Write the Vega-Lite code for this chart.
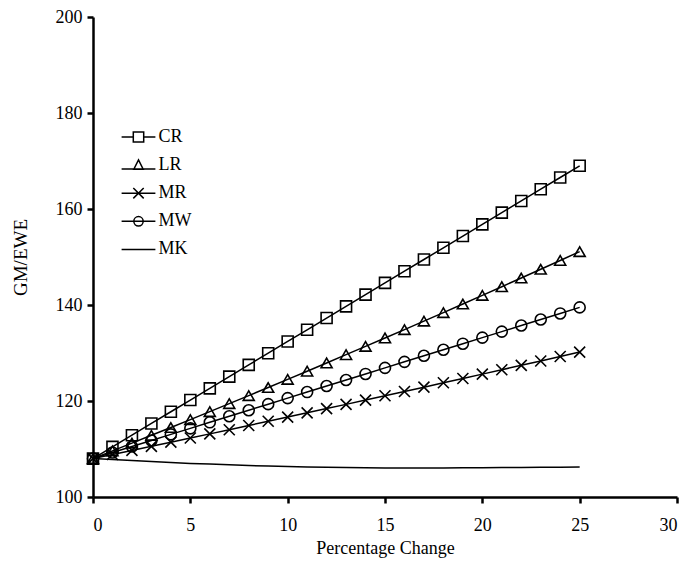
{
  "$schema": "https://vega.github.io/schema/vega-lite/v6.json",
  "autosize": "none",
  "width": 584,
  "height": 480,
  "padding": {"left": 93, "top": 17, "right": 22, "bottom": 77},
  "background": "white",
  "config": {
    "view": {"stroke": null},
    "font": "Liberation Serif",
    "axis": {
      "domainColor": "black", "domainWidth": 2.5,
      "tickColor": "black", "tickWidth": 2.5, "tickSize": 6,
      "grid": false,
      "labelFont": "Liberation Serif", "labelFontSize": 18, "labelColor": "black",
      "titleFont": "Liberation Serif", "titleFontSize": 18, "titleColor": "black", "titleFontWeight": "normal"
    }
  },
  "data": {
    "values": [
      {"x": 0, "CR": 108.0, "LR": 108.0, "MR": 108.0, "MW": 108.0, "MK": 108.0},
      {"x": 1, "CR": 110.44, "LR": 109.61, "MR": 108.85, "MW": 109.26, "MK": 107.8},
      {"x": 2, "CR": 112.88, "LR": 111.22, "MR": 109.71, "MW": 110.52, "MK": 107.6},
      {"x": 3, "CR": 115.32, "LR": 112.85, "MR": 110.56, "MW": 111.78, "MK": 107.4},
      {"x": 4, "CR": 117.76, "LR": 114.48, "MR": 111.42, "MW": 113.04, "MK": 107.2},
      {"x": 5, "CR": 120.2, "LR": 116.13, "MR": 112.29, "MW": 114.3, "MK": 107.0},
      {"x": 6, "CR": 122.64, "LR": 117.78, "MR": 113.15, "MW": 115.56, "MK": 106.85},
      {"x": 7, "CR": 125.08, "LR": 119.45, "MR": 114.02, "MW": 116.82, "MK": 106.7},
      {"x": 8, "CR": 127.52, "LR": 121.12, "MR": 114.9, "MW": 118.08, "MK": 106.55},
      {"x": 9, "CR": 129.96, "LR": 122.81, "MR": 115.77, "MW": 119.34, "MK": 106.45},
      {"x": 10, "CR": 132.4, "LR": 124.5, "MR": 116.65, "MW": 120.6, "MK": 106.35},
      {"x": 11, "CR": 134.84, "LR": 126.21, "MR": 117.53, "MW": 121.86, "MK": 106.25},
      {"x": 12, "CR": 137.28, "LR": 127.92, "MR": 118.42, "MW": 123.12, "MK": 106.2},
      {"x": 13, "CR": 139.72, "LR": 129.65, "MR": 119.3, "MW": 124.38, "MK": 106.15},
      {"x": 14, "CR": 142.16, "LR": 131.38, "MR": 120.19, "MW": 125.64, "MK": 106.1},
      {"x": 15, "CR": 144.6, "LR": 133.13, "MR": 121.09, "MW": 126.9, "MK": 106.05},
      {"x": 16, "CR": 147.04, "LR": 134.88, "MR": 121.98, "MW": 128.16, "MK": 106.05},
      {"x": 17, "CR": 149.48, "LR": 136.65, "MR": 122.88, "MW": 129.42, "MK": 106.05},
      {"x": 18, "CR": 151.92, "LR": 138.42, "MR": 123.79, "MW": 130.68, "MK": 106.05},
      {"x": 19, "CR": 154.36, "LR": 140.21, "MR": 124.69, "MW": 131.94, "MK": 106.1},
      {"x": 20, "CR": 156.8, "LR": 142.0, "MR": 125.6, "MW": 133.2, "MK": 106.1},
      {"x": 21, "CR": 159.24, "LR": 143.81, "MR": 126.51, "MW": 134.46, "MK": 106.15},
      {"x": 22, "CR": 161.68, "LR": 145.62, "MR": 127.43, "MW": 135.72, "MK": 106.15},
      {"x": 23, "CR": 164.12, "LR": 147.45, "MR": 128.34, "MW": 136.98, "MK": 106.2},
      {"x": 24, "CR": 166.56, "LR": 149.28, "MR": 129.26, "MW": 138.24, "MK": 106.2},
      {"x": 25, "CR": 169.0, "LR": 151.13, "MR": 130.19, "MW": 139.5, "MK": 106.25}
    ]
  },
  "transform": [
    {"fold": ["CR", "LR", "MR", "MW", "MK"], "as": ["series", "value"]}
  ],
  "encoding": {
    "x": {
      "field": "x", "type": "quantitative",
      "scale": {"domain": [0, 30], "nice": false},
      "axis": {"values": [0, 5, 10, 15, 20, 25, 30], "title": "Percentage Change", "labelPadding": 13, "titlePadding": 5}
    },
    "y": {
      "field": "value", "type": "quantitative",
      "scale": {"domain": [100, 200], "nice": false, "zero": false},
      "axis": {"values": [100, 120, 140, 160, 180, 200], "title": "GM/EWE", "labelPadding": 5, "titlePadding": 25, "titleFontSize": 19}
    }
  },
  "layer": [
    {
      "mark": {"type": "line", "stroke": "black", "strokeWidth": 1.5},
      "encoding": {"detail": {"field": "series"}}
    },
    {
      "transform": [{"filter": "datum.series !== 'MK'"}],
      "mark": {"type": "point", "filled": false, "stroke": "black", "strokeWidth": 1.6, "size": 121, "opacity": 1},
      "encoding": {
        "shape": {
          "field": "series",
          "scale": {"domain": ["CR", "LR", "MR", "MW"], "range": ["square", "triangle-up", "M-1,-1L1,1M-1,1L1,-1", "circle"]},
          "legend": null
        }
      }
    },
    {
      "mark": {"type": "point", "filled": false, "stroke": "black", "strokeWidth": 1.5, "opacity": 0},
      "encoding": {
        "shape": {
          "field": "series",
          "scale": {
            "domain": ["CR", "LR", "MR", "MW", "MK"],
            "range": [
              "M-1.3,0H-0.4M0.4,0H1.3M-0.4,-0.38H0.4V0.38H-0.4Z",
              "M-1.3,0.3H1.3M0,-0.4L0.36,0.32L-0.36,0.32Z",
              "M-1.3,0H1.3M-0.4,-0.4L0.4,0.4M-0.4,0.4L0.4,-0.4",
              "M-1.3,0H1.3M0.36,0A0.36,0.36 0 1,1 -0.36,0A0.36,0.36 0 1,1 0.36,0Z",
              "M-1.3,0H1.3"
            ]
          },
          "legend": {
            "title": null,
            "orient": "none",
            "legendX": 31.5,
            "legendY": 106,
            "padding": 0,
            "symbolSize": 676,
            "symbolOpacity": 1,
            "symbolStrokeColor": "black",
            "symbolFillColor": "transparent",
            "symbolStrokeWidth": 1.5,
            "labelFont": "Liberation Serif",
            "labelFontSize": 18,
            "labelColor": "black",
            "labelOffset": 6,
            "rowPadding": 5.1
          }
        }
      }
    }
  ],
  "resolve": {"scale": {"shape": "independent"}, "legend": {"shape": "independent"}}
}
